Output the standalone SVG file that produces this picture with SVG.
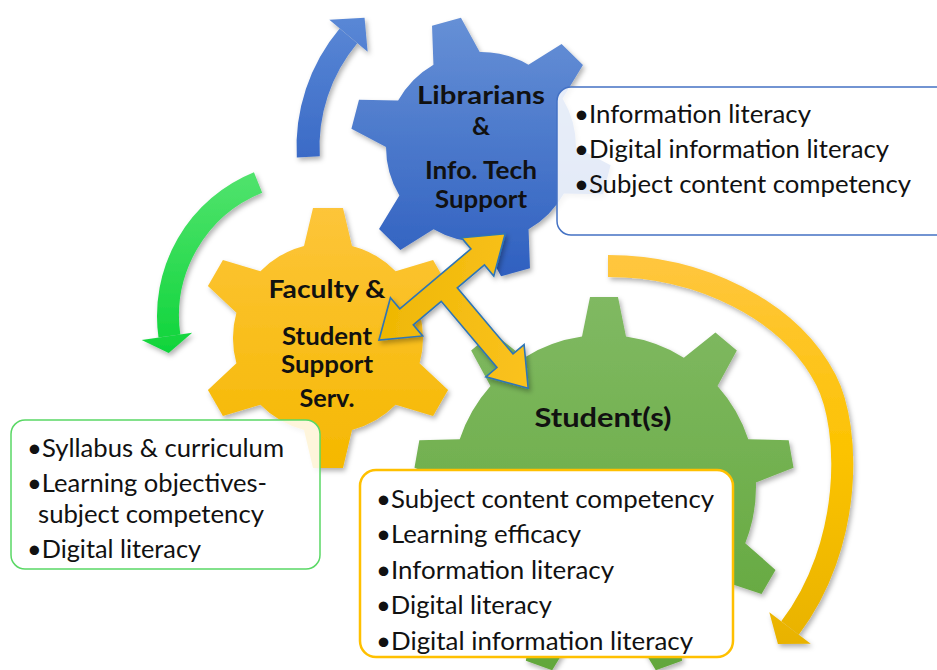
<svg xmlns="http://www.w3.org/2000/svg" width="937" height="670" viewBox="0 0 937 670">
<defs>
<style>
.lbl{font-family:Lato,"Open Sans","Liberation Sans",sans-serif;font-weight:700;font-size:25px;fill:#111;text-anchor:middle}
.item{font-family:Lato,"Open Sans","Liberation Sans",sans-serif;font-size:24.5px;fill:#111}
.box{fill:#fff}
.xarrow{stroke:#2E75B6;stroke-width:1.6;stroke-linejoin:miter}
</style>
<linearGradient id="gBlue" x1="0" y1="0" x2="0" y2="1" gradientTransform="rotate(15.4 .5 .5)"><stop offset="0" stop-color="#6690D6"/><stop offset="1" stop-color="#2F60C0"/></linearGradient>
<linearGradient id="gOrange" x1="0" y1="0" x2="0" y2="1"><stop offset="0" stop-color="#FDC53A"/><stop offset="1" stop-color="#F5B800"/></linearGradient>
<linearGradient id="gGreen" x1="0" y1="0" x2="0" y2="1"><stop offset="0" stop-color="#80B962"/><stop offset="1" stop-color="#62A73B"/></linearGradient>
<linearGradient id="aBlue" gradientUnits="userSpaceOnUse" x1="0" y1="15" x2="0" y2="160"><stop offset="0" stop-color="#5A88D6"/><stop offset="1" stop-color="#3A6AC6"/></linearGradient>
<linearGradient id="aGreen" gradientUnits="userSpaceOnUse" x1="0" y1="170" x2="0" y2="355"><stop offset="0" stop-color="#52E36E"/><stop offset="1" stop-color="#0ED43A"/></linearGradient>
<linearGradient id="aOrange" gradientUnits="userSpaceOnUse" x1="0" y1="255" x2="0" y2="650"><stop offset="0" stop-color="#FFC640"/><stop offset="0.5" stop-color="#FCC300"/><stop offset="1" stop-color="#E8B200"/></linearGradient>
<linearGradient id="aCross" x1="0" y1="0" x2="1" y2="1"><stop offset="0" stop-color="#EDB600"/><stop offset="1" stop-color="#FFC62A"/></linearGradient>
<filter id="sh" x="-20%" y="-20%" width="140%" height="140%"><feDropShadow dx="2" dy="3" stdDeviation="2.5" flood-color="#000" flood-opacity="0.3"/></filter>
<path id="gear6" d="M-24,-91.92 L-15,-130 L15,-130 L24,-91.92 A95 95 0 0 1 67.6,-66.74 L105.08,-77.99 L120.08,-52.01 L91.6,-25.18 A95 95 0 0 1 91.6,25.18 L120.08,52.01 L105.08,77.99 L67.6,66.74 A95 95 0 0 1 24,91.92 L15,130 L-15,130 L-24,91.92 A95 95 0 0 1 -67.6,66.74 L-105.08,77.99 L-120.08,52.01 L-91.6,25.18 A95 95 0 0 1 -91.6,-25.18 L-120.08,-52.01 L-105.08,-77.99 L-67.6,-66.74 A95 95 0 0 1 -24,-91.92 Z"/>
<path id="gear9" d="M-22,-150.4 L-14,-190 L14,-190 L22,-150.4 A152 152 0 0 1 79.83,-129.35 L111.41,-154.54 L132.85,-136.54 L113.53,-101.07 A152 152 0 0 1 144.29,-47.78 L184.68,-46.77 L189.54,-19.19 L151.93,-4.44 A152 152 0 0 1 141.25,56.15 L171.54,82.88 L157.54,107.12 L119.25,94.25 A152 152 0 0 1 72.11,133.81 L78.14,173.75 L51.82,183.33 L30.77,148.85 A152 152 0 0 1 -30.77,148.85 L-51.82,183.33 L-78.14,173.75 L-72.11,133.81 A152 152 0 0 1 -119.25,94.25 L-157.54,107.12 L-171.54,82.88 L-141.25,56.15 A152 152 0 0 1 -151.93,-4.44 L-189.54,-19.19 L-184.68,-46.77 L-144.29,-47.78 A152 152 0 0 1 -113.53,-101.07 L-132.85,-136.54 L-111.41,-154.54 L-79.83,-129.35 A152 152 0 0 1 -22,-150.4 Z"/>
</defs>

<g id="cycle-arrows" filter="url(#sh)">
  <path d="M308.29,156.96 A173 173 0 0 1 348.47,35.8" fill="none" stroke="url(#aBlue)" stroke-width="23"/>
  <polygon points="367.63,51.87 329.32,19.73 364.57,17.69" fill="url(#aBlue)"/>
  <path d="M258.06,182.49 A144 144 0 0 0 169.4,336.04" fill="none" stroke="url(#aGreen)" stroke-width="22"/>
  <polygon points="192.18,332.84 141.67,339.94 168.71,353.06" fill="url(#aGreen)"/>
  <path d="M608,266 C700,266 790,310 826,380 C851,429 853,545 790,628" fill="none" stroke="url(#aOrange)" stroke-width="22"/>
  <polygon points="810.7,643.7 769.3,612.3 777.9,643.9" fill="url(#aOrange)"/>
</g>

<g id="node-student">
  <g filter="url(#sh)"><use href="#gear9" transform="translate(604,487)" fill="url(#gGreen)"/></g>
  <text class="lbl" x="603" y="427" style="font-size:27px" textLength="137" lengthAdjust="spacingAndGlyphs">Student(s)</text>
</g>

<g id="node-faculty">
  <g filter="url(#sh)"><use href="#gear6" transform="translate(328,338)" fill="url(#gOrange)"/></g>
  <text class="lbl" x="327" y="298" textLength="117" lengthAdjust="spacingAndGlyphs">Faculty &amp;</text>
  <text class="lbl" x="327" y="345" textLength="90" lengthAdjust="spacingAndGlyphs">Student</text>
  <text class="lbl" x="327" y="373" textLength="92" lengthAdjust="spacingAndGlyphs">Support</text>
  <text class="lbl" x="327" y="407" textLength="55" lengthAdjust="spacingAndGlyphs">Serv.</text>
</g>

<g id="node-librarians">
  <g filter="url(#sh)"><use href="#gear6" transform="translate(481,147) rotate(-15.4)" fill="url(#gBlue)"/></g>
  <text class="lbl" x="481" y="104" textLength="128" lengthAdjust="spacingAndGlyphs">Librarians</text>
  <text class="lbl" x="481" y="135">&amp;</text>
  <text class="lbl" x="481" y="179" style="font-size:24px" textLength="112" lengthAdjust="spacingAndGlyphs">Info. Tech</text>
  <text class="lbl" x="481" y="208" style="font-size:24px" textLength="92" lengthAdjust="spacingAndGlyphs">Support</text>
</g>

<g id="connectors">
  <g filter="url(#sh)">
    <polygon class="xarrow" fill="url(#aCross)" transform="translate(379,340) rotate(-40.1)" points="0,0 36,-25 36,-10.5 129,-10.5 129,-25 165,0 129,25 129,10.5 93.5,10.5 93.5,97 108,97 83,133 58,97 72.5,97 72.5,10.5 36,10.5 36,25"/>
  </g>
</g>

<g id="box-librarians">
  <rect class="box" x="557" y="87" width="400" height="148" rx="14" fill-opacity="0.86" stroke="#4472C4" stroke-width="1.5"/>
  <text class="item" x="574" y="123" textLength="237" lengthAdjust="spacingAndGlyphs">•Information literacy</text>
  <text class="item" x="574" y="158" textLength="315" lengthAdjust="spacingAndGlyphs">•Digital information literacy</text>
  <text class="item" x="574" y="193" textLength="337" lengthAdjust="spacingAndGlyphs">•Subject content competency</text>
</g>

<g id="box-faculty">
  <rect class="box" x="11" y="420" width="309" height="149" rx="14" fill-opacity="0.86" stroke="#5AD865" stroke-width="1.5"/>
  <text class="item" x="27" y="457" textLength="257" lengthAdjust="spacingAndGlyphs">•Syllabus &amp; curriculum</text>
  <text class="item" x="27" y="492" textLength="240" lengthAdjust="spacingAndGlyphs">•Learning objectives-</text>
  <text class="item" x="38" y="523" textLength="226" lengthAdjust="spacingAndGlyphs">subject competency</text>
  <text class="item" x="27" y="558" textLength="174" lengthAdjust="spacingAndGlyphs">•Digital literacy</text>
</g>

<g id="box-student">
  <rect class="box" x="360" y="470" width="373" height="187" rx="16" stroke="#FFC000" stroke-width="2.5"/>
  <text class="item" x="376" y="507.5" textLength="338" lengthAdjust="spacingAndGlyphs">•Subject content competency</text>
  <text class="item" x="376" y="543" textLength="205" lengthAdjust="spacingAndGlyphs">•Learning efficacy</text>
  <text class="item" x="376" y="578.5" textLength="238" lengthAdjust="spacingAndGlyphs">•Information literacy</text>
  <text class="item" x="376" y="614" textLength="176" lengthAdjust="spacingAndGlyphs">•Digital literacy</text>
  <text class="item" x="376" y="649.5" textLength="317" lengthAdjust="spacingAndGlyphs">•Digital information literacy</text>
</g>
</svg>
